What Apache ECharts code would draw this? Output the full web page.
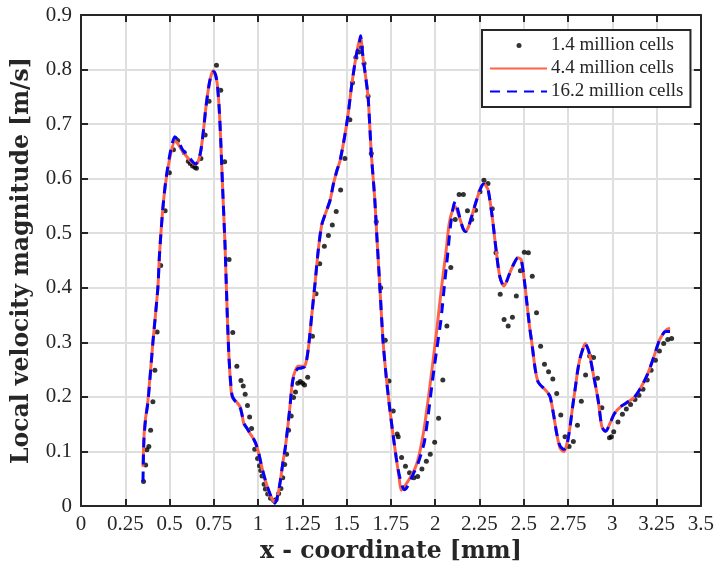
<!DOCTYPE html>
<html>
<head>
<meta charset="utf-8">
<script src="https://cdn.jsdelivr.net/npm/echarts@6/dist/echarts.min.js"></script>
<style>html,body{margin:0;padding:0;background:#fff}#c{width:717px;height:574px}</style>
</head>
<body>
<div id="c"></div>
<script>
// ---- data ----
const xTicks = [0, 0.25, 0.5, 0.75, 1, 1.25, 1.5, 1.75, 2, 2.25, 2.5, 2.75, 3, 3.25, 3.5];
const yTicks = [0, 0.1, 0.2, 0.3, 0.4, 0.5, 0.6, 0.7, 0.8, 0.9];
const seriesNames = ['1.4 million cells', '4.4 million cells', '16.2 million cells'];

const dotX = [0.353,0.365,0.372,0.383,0.393,0.406,0.417,0.43,0.45,0.475,0.499,0.522,0.546,0.583,0.606,0.617,0.63,0.643,0.652,0.677,0.701,0.723,0.765,0.789,0.811,0.836,0.857,0.88,0.903,0.916,0.927,0.94,0.952,0.963,0.981,0.997,1.008,1.015,1.022,1.034,1.041,1.054,1.07,1.088,1.102,1.116,1.129,1.139,1.15,1.161,1.172,1.187,1.2,1.211,1.224,1.238,1.251,1.262,1.28,1.307,1.327,1.348,1.374,1.397,1.419,1.441,1.466,1.49,1.518,1.533,1.552,1.569,1.583,1.598,1.621,1.639,1.667,1.692,1.718,1.739,1.763,1.785,1.791,1.81,1.832,1.855,1.879,1.901,1.925,1.95,1.972,1.997,2.019,2.043,2.066,2.088,2.113,2.135,2.159,2.182,2.206,2.228,2.253,2.275,2.298,2.322,2.343,2.367,2.389,2.412,2.436,2.458,2.481,2.503,2.526,2.548,2.572,2.595,2.617,2.64,2.664,2.686,2.709,2.733,2.756,2.78,2.803,2.825,2.849,2.872,2.894,2.916,2.941,2.984,2.995,3.008,3.032,3.057,3.079,3.103,3.128,3.15,3.173,3.197,3.219,3.243,3.266,3.29,3.313,3.335];
const dotY = [0.045,0.075,0.103,0.109,0.139,0.191,0.249,0.319,0.441,0.541,0.611,0.653,0.67,0.648,0.632,0.628,0.623,0.621,0.619,0.637,0.68,0.742,0.808,0.762,0.631,0.452,0.318,0.256,0.23,0.22,0.205,0.184,0.163,0.142,0.104,0.087,0.074,0.065,0.055,0.04,0.031,0.022,0.014,0.01,0.012,0.023,0.032,0.052,0.076,0.095,0.139,0.165,0.199,0.209,0.225,0.228,0.225,0.222,0.236,0.311,0.389,0.444,0.476,0.496,0.515,0.54,0.579,0.637,0.708,0.776,0.822,0.832,0.841,0.811,0.751,0.646,0.521,0.40,0.304,0.229,0.174,0.132,0.127,0.089,0.073,0.061,0.052,0.054,0.068,0.082,0.095,0.117,0.161,0.231,0.33,0.437,0.525,0.571,0.571,0.541,0.525,0.542,0.576,0.597,0.591,0.545,0.464,0.388,0.342,0.33,0.346,0.385,0.431,0.465,0.464,0.421,0.354,0.293,0.26,0.246,0.233,0.206,0.167,0.127,0.109,0.118,0.148,0.192,0.24,0.275,0.272,0.234,0.18,0.125,0.127,0.136,0.154,0.168,0.178,0.186,0.195,0.203,0.214,0.231,0.249,0.267,0.284,0.298,0.305,0.307];

const redX = [0.35,0.359,0.378,0.406,0.434,0.443,0.462,0.48,0.508,0.53,0.545,0.57,0.593,0.62,0.645,0.662,0.677,0.692,0.705,0.723,0.737,0.748,0.76,0.77,0.78,0.789,0.80,0.813,0.826,0.836,0.848,0.856,0.88,0.901,0.92,0.938,0.96,0.976,0.99,1.004,1.022,1.041,1.07,1.094,1.11,1.125,1.14,1.154,1.176,1.195,1.21,1.225,1.245,1.266,1.284,1.303,1.322,1.34,1.359,1.378,1.406,1.425,1.445,1.462,1.49,1.509,1.527,1.546,1.562,1.578,1.593,1.608,1.621,1.63,1.639,1.658,1.673,1.686,1.705,1.724,1.742,1.761,1.78,1.795,1.808,1.825,1.845,1.864,1.885,1.901,1.92,1.939,1.958,1.976,1.995,2.013,2.032,2.045,2.06,2.079,2.098,2.113,2.13,2.144,2.158,2.172,2.186,2.20,2.228,2.256,2.275,2.29,2.30,2.322,2.346,2.365,2.388,2.405,2.416,2.444,2.466,2.485,2.503,2.518,2.533,2.546,2.565,2.58,2.593,2.615,2.63,2.649,2.668,2.686,2.705,2.727,2.742,2.761,2.775,2.789,2.803,2.817,2.836,2.847,2.86,2.87,2.892,2.92,2.939,2.95,2.963,2.986,3.013,3.051,3.089,3.126,3.163,3.201,3.238,3.266,3.294,3.31,3.326];
const redY = [0.072,0.145,0.194,0.30,0.40,0.46,0.545,0.597,0.648,0.668,0.665,0.652,0.642,0.632,0.626,0.632,0.652,0.69,0.73,0.772,0.792,0.798,0.79,0.772,0.73,0.67,0.58,0.48,0.35,0.27,0.21,0.198,0.19,0.18,0.15,0.142,0.13,0.122,0.112,0.096,0.07,0.047,0.018,0.008,0.018,0.045,0.08,0.108,0.17,0.232,0.248,0.256,0.256,0.258,0.29,0.35,0.41,0.47,0.515,0.534,0.56,0.59,0.615,0.632,0.68,0.72,0.768,0.81,0.84,0.86,0.82,0.785,0.75,0.70,0.646,0.566,0.48,0.41,0.304,0.235,0.182,0.133,0.088,0.055,0.029,0.035,0.045,0.055,0.068,0.083,0.11,0.145,0.19,0.235,0.285,0.335,0.39,0.425,0.463,0.518,0.542,0.549,0.535,0.522,0.508,0.503,0.51,0.524,0.555,0.582,0.59,0.585,0.578,0.53,0.463,0.42,0.403,0.413,0.423,0.444,0.455,0.452,0.414,0.371,0.328,0.298,0.25,0.228,0.222,0.215,0.21,0.20,0.168,0.133,0.106,0.10,0.112,0.145,0.18,0.212,0.245,0.27,0.29,0.298,0.29,0.28,0.243,0.194,0.148,0.14,0.137,0.151,0.17,0.183,0.191,0.20,0.218,0.243,0.277,0.304,0.319,0.324,0.326];

const blueX = [0.35,0.355,0.365,0.378,0.406,0.434,0.443,0.462,0.48,0.508,0.53,0.545,0.57,0.593,0.62,0.645,0.662,0.677,0.692,0.705,0.723,0.737,0.748,0.76,0.77,0.78,0.789,0.80,0.813,0.826,0.836,0.848,0.856,0.88,0.901,0.92,0.938,0.96,0.976,0.99,1.004,1.022,1.041,1.07,1.094,1.11,1.125,1.14,1.154,1.176,1.195,1.21,1.225,1.245,1.266,1.284,1.303,1.322,1.34,1.359,1.378,1.406,1.425,1.445,1.462,1.49,1.509,1.527,1.546,1.56,1.568,1.578,1.593,1.608,1.621,1.63,1.639,1.658,1.673,1.686,1.705,1.724,1.742,1.761,1.78,1.795,1.81,1.825,1.836,1.85,1.864,1.885,1.905,1.92,1.939,1.958,1.985,2.01,2.032,2.055,2.07,2.085,2.10,2.113,2.13,2.144,2.158,2.172,2.186,2.20,2.228,2.256,2.275,2.29,2.30,2.322,2.346,2.365,2.388,2.405,2.416,2.444,2.466,2.485,2.503,2.518,2.533,2.546,2.565,2.58,2.593,2.615,2.63,2.649,2.668,2.686,2.705,2.727,2.742,2.761,2.775,2.789,2.803,2.817,2.836,2.847,2.86,2.87,2.892,2.92,2.939,2.95,2.963,2.986,3.013,3.051,3.089,3.126,3.163,3.201,3.238,3.266,3.294,3.31,3.326];
const blueY = [0.045,0.12,0.16,0.19,0.30,0.40,0.46,0.545,0.60,0.655,0.677,0.672,0.655,0.645,0.635,0.627,0.632,0.652,0.69,0.73,0.772,0.792,0.796,0.79,0.772,0.73,0.67,0.58,0.48,0.35,0.27,0.215,0.20,0.188,0.178,0.152,0.142,0.13,0.122,0.112,0.096,0.07,0.047,0.02,0.005,0.018,0.045,0.08,0.108,0.17,0.228,0.245,0.252,0.253,0.256,0.29,0.35,0.41,0.47,0.515,0.534,0.56,0.59,0.615,0.632,0.68,0.72,0.768,0.81,0.835,0.838,0.862,0.82,0.785,0.75,0.70,0.646,0.566,0.48,0.41,0.304,0.235,0.182,0.133,0.088,0.06,0.04,0.03,0.032,0.04,0.05,0.065,0.08,0.095,0.118,0.16,0.231,0.29,0.34,0.414,0.46,0.51,0.545,0.558,0.54,0.522,0.508,0.503,0.51,0.524,0.555,0.582,0.59,0.585,0.578,0.53,0.463,0.42,0.403,0.413,0.423,0.444,0.455,0.452,0.414,0.371,0.328,0.298,0.25,0.228,0.222,0.215,0.21,0.20,0.168,0.133,0.11,0.104,0.109,0.145,0.18,0.212,0.245,0.27,0.29,0.298,0.29,0.28,0.243,0.194,0.148,0.14,0.137,0.151,0.17,0.183,0.191,0.20,0.218,0.243,0.277,0.304,0.319,0.32,0.32];

// ---- chart ----
const zip = (xs, ys) => xs.map((x, i) => [x, ys[i]]);
const AX = '#262626';
const SERIF = '"Liberation Serif", "Times New Roman", serif';
const TITLE_FONT = '"DejaVu Serif", serif';

function baseX(extra) {
  return Object.assign({
    type: 'value', min: xTicks[0], max: xTicks[xTicks.length - 1], interval: 0.25,
    axisLine: { show: true, onZero: false, lineStyle: { color: AX, width: 2 } },
    axisTick: { show: true, inside: true, length: 7, lineStyle: { color: AX, width: 2 } },
    splitLine: { show: false }
  }, extra);
}
function baseY(extra) {
  return Object.assign({
    type: 'value', min: yTicks[0], max: yTicks[yTicks.length - 1], interval: 0.1,
    axisLine: { show: true, onZero: false, lineStyle: { color: AX, width: 2 } },
    axisTick: { show: true, inside: true, length: 7, lineStyle: { color: AX, width: 2 } },
    splitLine: { show: false }
  }, extra);
}

const chart = echarts.init(document.getElementById('c'), null, { renderer: 'canvas' });
chart.setOption({
  animation: false,
  backgroundColor: '#fff',
  grid: { left: 81, right: 12, top: 15, bottom: 68, containLabel: false },
  xAxis: [
    baseX({
      position: 'bottom',
      name: 'x - coordinate [mm]', nameLocation: 'middle', nameGap: 32,
      nameTextStyle: { fontFamily: TITLE_FONT, fontWeight: 'bold', fontSize: 23.5, color: AX },
      axisLabel: { color: AX, fontFamily: SERIF, fontSize: 21, margin: 8 },
      splitLine: { show: true, lineStyle: { color: '#dfdfdf', width: 2 } }
    }),
    baseX({ position: 'top', axisLabel: { show: false } })
  ],
  yAxis: [
    baseY({
      position: 'left',
      name: 'Local velocity magnitude [m/s]', nameLocation: 'middle', nameGap: 47,
      nameTextStyle: { fontFamily: TITLE_FONT, fontWeight: 'bold', fontSize: 23.5, color: AX },
      axisLabel: { color: AX, fontFamily: SERIF, fontSize: 21, margin: 9 },
      splitLine: { show: true, lineStyle: { color: '#dfdfdf', width: 2 } }
    }),
    baseY({ position: 'right', axisLabel: { show: false } })
  ],
  legend: {
    orient: 'vertical', left: 482, top: 30,
    padding: [6, 7, 6, 7], itemGap: 4, itemWidth: 57, itemHeight: 14,
    backgroundColor: '#fff', borderColor: AX, borderWidth: 2, borderRadius: 0,
    textStyle: { fontFamily: SERIF, fontSize: 19, color: AX, padding: [0, 0, 0, -1] },
    data: [
      { name: seriesNames[0], icon: 'path://M0 0M57 14M26.5 7a2.5 2.5 0 1 0 5 0a2.5 2.5 0 1 0 -5 0Z' },
      { name: seriesNames[1], itemStyle: { opacity: 0 } },
      { name: seriesNames[2], itemStyle: { opacity: 0 } }
    ]
  },
  series: [
    {
      name: seriesNames[0], type: 'scatter', data: zip(dotX, dotY),
      symbol: 'circle', symbolSize: 5, itemStyle: { color: '#000' }
    },
    {
      name: seriesNames[1], type: 'line', data: zip(redX, redY), smooth: 0.25,
      showSymbol: false, symbol: 'none',
      lineStyle: { color: '#ff6347', width: 3 }, itemStyle: { color: '#ff6347' }
    },
    {
      name: seriesNames[2], type: 'line', data: zip(blueX, blueY), smooth: 0.25,
      showSymbol: false, symbol: 'none',
      lineStyle: { color: '#0000ff', width: 3, type: [10, 7] }, itemStyle: { color: '#0000ff' }
    }
  ]
});
</script>
</body>
</html>
